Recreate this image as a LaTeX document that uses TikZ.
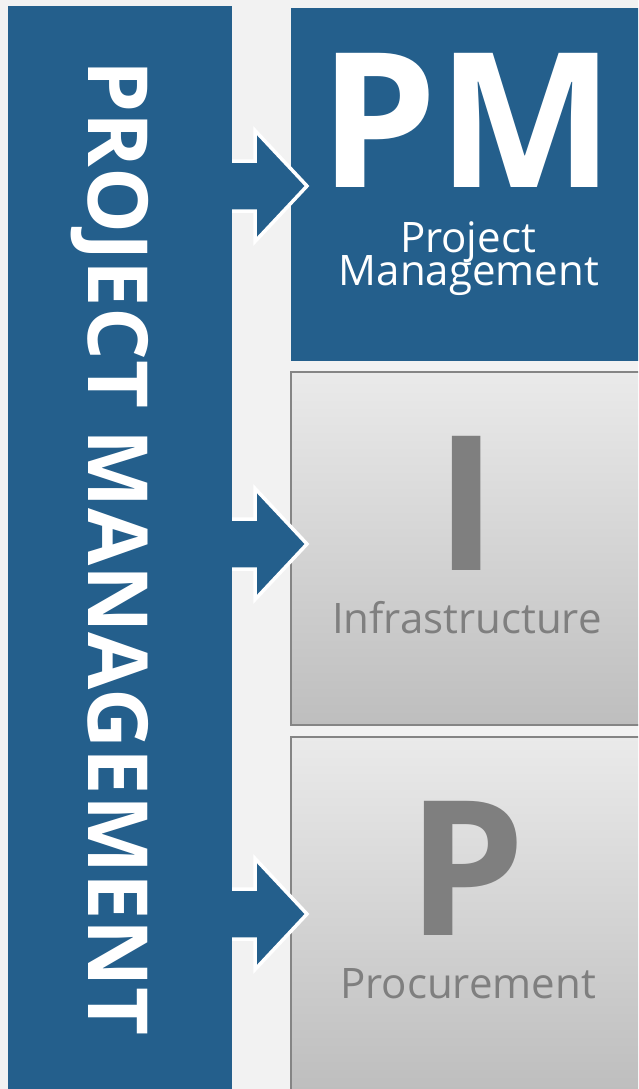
\documentclass[tikz,border=0pt]{standalone}
\usepackage{fontspec}
\setmainfont{Open Sans}
\definecolor{pmblue}{RGB}{36,95,140}
\definecolor{bggray}{RGB}{242,242,242}
\definecolor{txtgray}{RGB}{127,127,127}
\definecolor{boxtop}{RGB}{234,234,234}
\definecolor{boxmid}{RGB}{216,216,216}
\definecolor{boxbot}{RGB}{190,190,190}
\definecolor{boxline}{RGB}{133,133,133}
\begin{document}
\begin{tikzpicture}[x=1pt,y=-1pt,
  panel/.style={minimum width=360pt, minimum height=353pt, anchor=north west, inner sep=0pt, outer sep=0pt},
  bluepanel/.style={panel, fill=pmblue},
  graypanel/.style={panel, draw=boxline, line width=2pt, top color=boxtop, middle color=boxmid, bottom color=boxbot},
  bigletter/.style={font=\fontsize{188}{188}\selectfont\bfseries, inner sep=0pt, anchor=base},
  sublabel/.style={font=\fontsize{42}{42}\selectfont, inner sep=0pt, anchor=base},
  blockarrow/.style={fill=pmblue},
  arrowedge/.style={draw=white, line width=3.5pt, miter limit=10}
]
\useasboundingbox (0,0) rectangle (638,1089);
\clip (0,0) rectangle (638,1089);
\fill[bggray] (0,0) rectangle (638,1089);

% left bar
\node[fill=pmblue, minimum width=224pt, minimum height=1100pt, anchor=north west, inner sep=0pt] (bar) at (8,6) {};
\node[rotate=-90, anchor=base, inner sep=0pt, text=white, font=\fontsize{83}{83}\selectfont\bfseries] (bartext) at (88,548) {PROJECT MANAGEMENT};

% panels
\node[bluepanel] (pm) at (291,8) {};
\node[graypanel] (infra) at (291,372) {};
\node[graypanel] (proc) at (291,737) {};

% block arrows
\foreach \c in {186,544,914} {
  \fill[blockarrow] (229,\c-25) -- (255,\c-25) -- (255,\c-55.5) -- (307,\c) -- (255,\c+55.5) -- (255,\c+25) -- (229,\c+25) -- cycle;
  \draw[arrowedge] (232,\c-25) -- (255,\c-25) -- (255,\c-55.5) -- (307,\c) -- (255,\c+55.5) -- (255,\c+25) -- (232,\c+25);
}

% texts
\node[bigletter, text=white] (pmletters) at (467,187) {PM};
\node[sublabel, text=white] (pmsub1) at (468,252) {Project};
\node[sublabel, text=white] (pmsub2) at (469,285) {Management};

\node[bigletter, text=txtgray] (iletter) at (467,570) {I};
\node[sublabel, text=txtgray] (isub) at (467,633) {Infrastructure};

\node[bigletter, text=txtgray] (pletter) at (467,935) {P};
\node[sublabel, text=txtgray] (psub) at (468,998) {Procurement};
\end{tikzpicture}
\end{document}
